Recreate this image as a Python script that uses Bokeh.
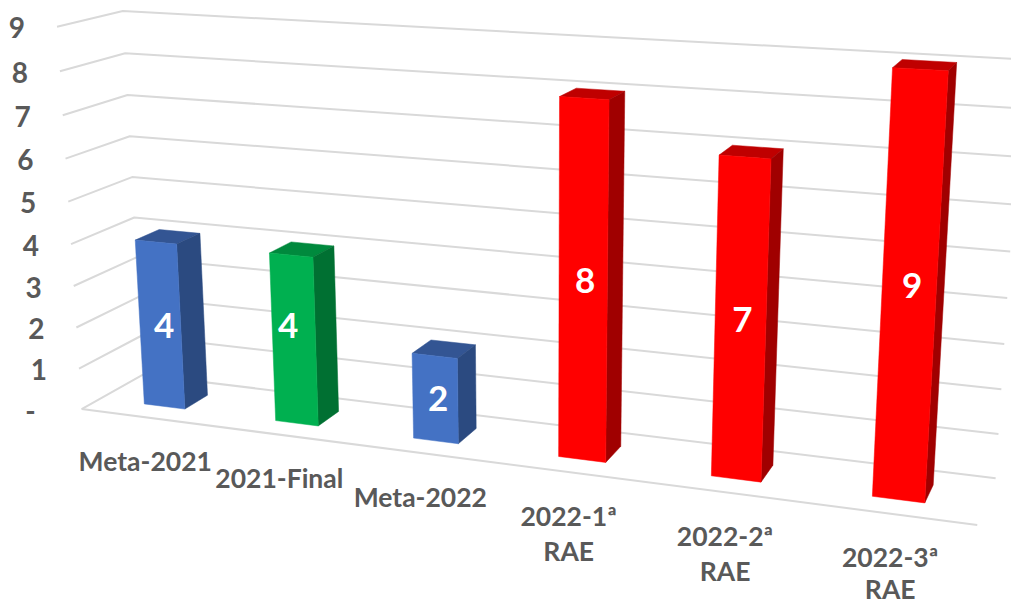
import numpy as np
from bokeh.plotting import figure
from bokeh.models import Range1d
from bokeh.core.properties import value
from bokeh.embed import file_html
from bokeh.resources import INLINE

# ---- data ----
categories = [["Meta-2021"], ["2021-Final"], ["Meta-2022"], ["2022-1ª", "RAE"], ["2022-2ª", "RAE"], ["2022-3ª", "RAE"]]
values = [4, 4, 2, 8, 7, 9]
tick_values = [0, 1, 2, 3, 4, 5, 6, 7, 8, 9]
tick_labels = ["-", "1", "2", "3", "4", "5", "6", "7", "8", "9"]

# ---- styles ----
face_colors = ["#4472C4", "#00B050", "#4472C4", "#FF0000", "#FF0000", "#FF0000"]
side_colors = ["#2B4A80", "#007032", "#2B4A80", "#A00000", "#A00000", "#A00000"]
top_colors = ["#335593", "#00893D", "#335593", "#BF0000", "#BF0000", "#BF0000"]
GRID = "#D9D9D9"
TXT = "#595959"
FONT = "Lato"
BAR_HALF = 0.157
D0, D1 = 0.3, 0.69
label_dx = [4, -6, 3, 2, 2, 3]
label_dy = [0, -15, 0, -3, -2, -5]
line_gap = [35, 35, 35, 35, 35, 32]

# ---- camera: calibrates (along, depth, level) -> page pixel for the 3-D frame ----
front_left = [(82, 408), (78, 368), (76, 327), (73, 286), (70, 244), (68, 201), (65, 158), (62, 115), (59, 71), (57, 26)]
back_left = [(143, 374.5), (140, 335), (138, 296), (136, 257), (134, 217), (131, 177), (129, 136), (127, 95), (125, 52), (123, 10)]
back_right = {0: (995, 478), 1: (998, 434), 2: (1001, 389), 3: (1004, 343), 4: (1006, 297), 5: (1010, 251), 9: (1022, 59)}
anchors = []
for lv, xy in enumerate(front_left):
    anchors.append(((0, 0, lv), xy))
for lv, xy in enumerate(back_left):
    anchors.append(((0, 1, lv), xy))
for lv, xy in back_right.items():
    anchors.append(((1, 1, lv), xy))
anchors.append(((1, 0, 0), (977, 524)))

A, b = [], []
for (u, d, v), (px, py) in anchors:
    A.append([u, d, v, 1, 0, 0, 0, 0, -px * u, -px * d, -px * v])
    b.append(px)
    A.append([0, 0, 0, 0, u, d, v, 1, -py * u, -py * d, -py * v])
    b.append(py)
sol = np.linalg.lstsq(np.array(A, float), np.array(b, float), rcond=None)[0]
P = np.append(sol, 1.0).reshape(3, 4)


def project(u, d, v):
    X = np.array([u, d, v, 1.0])
    w = P @ X
    return float(w[0] / w[2]), float(w[1] / w[2])


def poly(points):
    pts = [project(*q) for q in points]
    return [q[0] for q in pts], [q[1] for q in pts]


p = figure(width=1011, height=605, x_range=Range1d(0, 1011), y_range=Range1d(605, 0),
           toolbar_location=None, output_backend="svg", min_border=0,
           outline_line_color=None, background_fill_color="white", border_fill_color="white")
p.axis.visible = False
p.grid.visible = False

# ---- gridlines ----
gx, gy = [], []
for t in tick_values:
    xs, ys = poly([(0, 0, t), (0, 1, t), (1, 1, t)])
    gx.append(xs)
    gy.append(ys)
xs, ys = poly([(0, 0, 0), (1, 0, 0)])
gx.append(xs)
gy.append(ys)
p.multi_line(gx, gy, line_color=GRID, line_width=2)

# ---- bars ----
n = len(values)
for i, val in enumerate(values):
    c = (i + 0.5) / n
    u0, u1 = c - BAR_HALF / n, c + BAR_HALF / n
    faces = [
        ([(u0, D0, val), (u1, D0, val), (u1, D1, val), (u0, D1, val)], top_colors[i]),
        ([(u1, D0, 0), (u1, D1, 0), (u1, D1, val), (u1, D0, val)], side_colors[i]),
        ([(u0, D0, 0), (u1, D0, 0), (u1, D0, val), (u0, D0, val)], face_colors[i]),
    ]
    for pts, col in faces:
        xs, ys = poly(pts)
        p.patch(xs, ys, fill_color=col, line_color=col, line_width=0.5)

# ---- value labels ----
lx, ly = [], []
for i, val in enumerate(values):
    x, y = project((i + 0.5) / n, D0, val / 2)
    lx.append(x)
    ly.append(y)
p.text(lx, ly, text=[str(v) for v in values], text_color="white", text_font=value(FONT),
       text_font_style="bold", text_font_size="35px", text_align="center", text_baseline="middle",
       x_offset=label_dx, y_offset=label_dy)

# ---- value-axis labels ----
tx, ty, tdx = [], [], []
for t, lab in zip(tick_values, tick_labels):
    x, y = project(0, 0, t)
    tx.append(x)
    ty.append(y)
    tdx.append(-46 if lab == "-" else -32)
p.text(tx, ty, text=tick_labels, text_color=TXT, text_font=value(FONT), text_font_style="bold",
       text_font_size="28px", text_align="right", text_baseline="middle", x_offset=tdx, y_offset=1)

# ---- category labels ----
cx, cy, ct, cdy = [], [], [], []
for i, lines in enumerate(categories):
    x, y = project((i + 0.5) / n, 0, 0)
    for j, line in enumerate(lines):
        cx.append(x)
        cy.append(y)
        ct.append(line)
        cdy.append(43.5 + line_gap[i] * j)
p.text(cx, cy, text=ct, text_color=TXT, text_font=value(FONT), text_font_style="bold",
       text_font_size="26.5px", text_align="center", text_baseline="middle", x_offset=-1, y_offset=cdy)

open("out.html", "w").write(file_html(p, INLINE))
